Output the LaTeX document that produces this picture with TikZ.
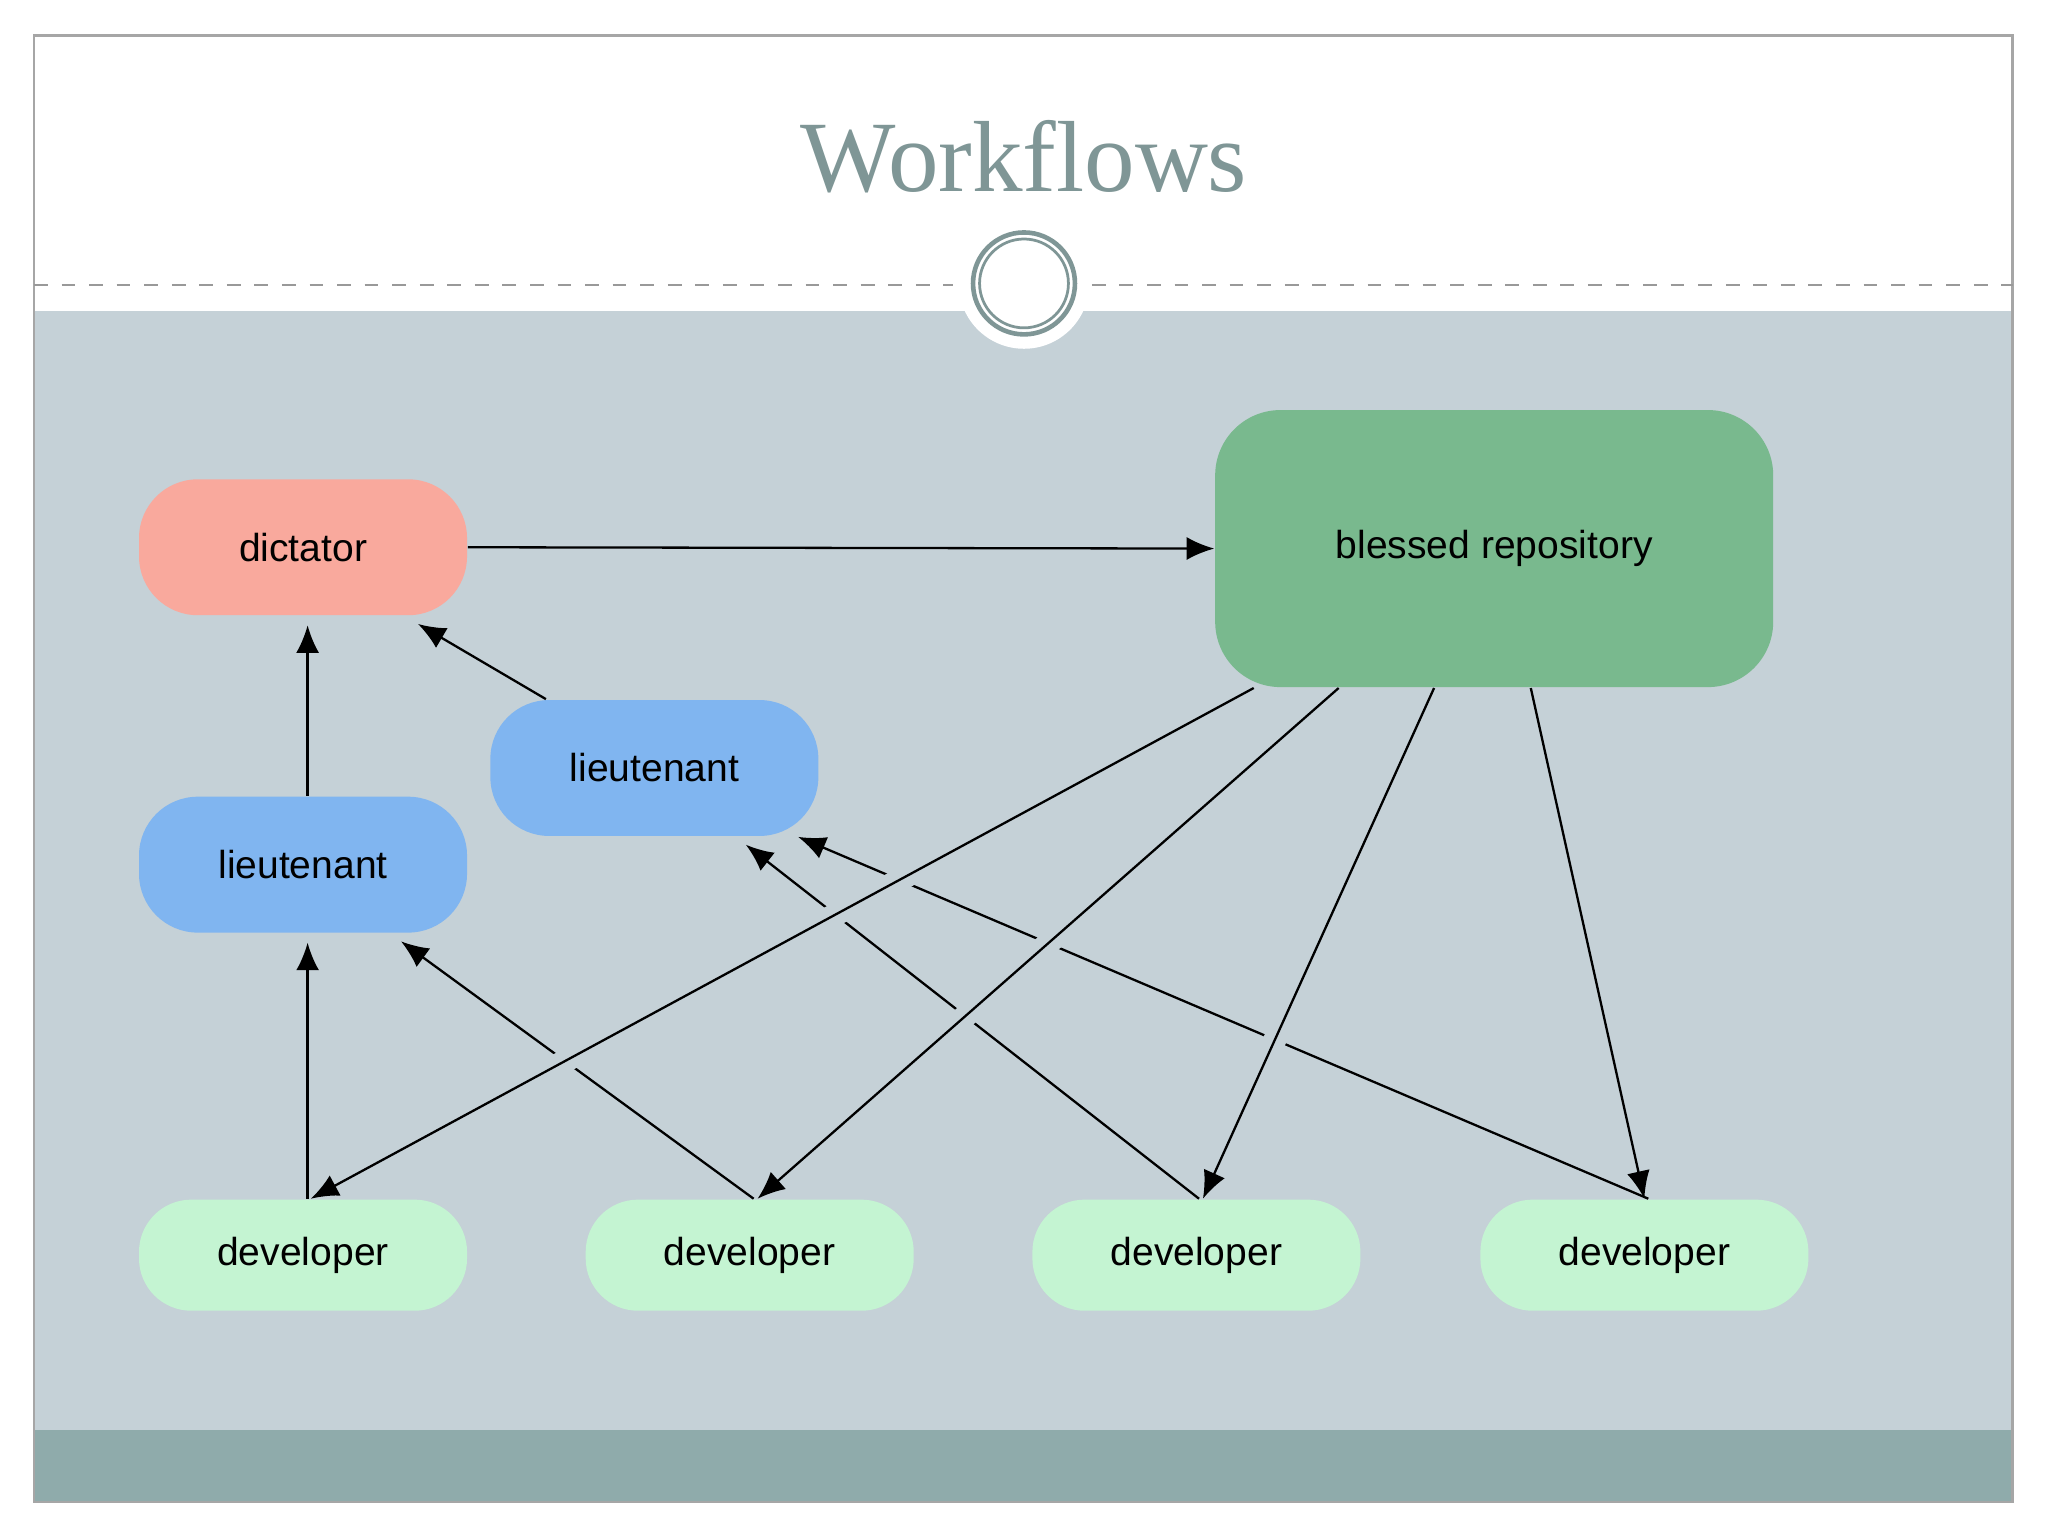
\documentclass[tikz,border=0pt]{standalone}
\usepackage{fontspec}
\setmainfont{Liberation Serif}
\newfontfamily\nodefont{Liberation Sans}
\usetikzlibrary{arrows.meta,positioning}
\definecolor{bodybg}{HTML}{C5D1D7}
\definecolor{bandbg}{HTML}{8FABAB}
\definecolor{titlecol}{HTML}{7F9696}
\definecolor{dictcol}{HTML}{F9A99D}
\definecolor{blesscol}{HTML}{79B98E}
\definecolor{ltcol}{HTML}{80B5F0}
\definecolor{devcol}{HTML}{C4F4D2}
\tikzset{box/.style={rounded corners=0.45cm, minimum width=2.51cm, minimum height=1.04cm, font=\nodefont\fontsize{8.5}{10}\selectfont, inner sep=0pt}}
\tikzset{dictBox/.style={box, fill=dictcol}}
\tikzset{ltBox/.style={box, fill=ltcol}}
\tikzset{devBox/.style={box, fill=devcol, minimum height=0.85cm, rounded corners=0.4cm}}
\tikzset{blessBox/.style={box, fill=blesscol, minimum width=4.27cm, minimum height=2.12cm, rounded corners=0.5cm}}
\tikzset{arr/.style={-{Latex[length=6pt,width=5pt]}, line width=0.5pt}}
\tikzset{over/.style={arr, preaction={draw=bodybg, line width=5pt, -, shorten >=12pt, shorten <=6pt}}}
\begin{document}
\begin{tikzpicture}[x=0.01cm, y=-0.01cm]
\useasboundingbox (0,0) rectangle (1568,1176);
\fill[white] (0,0) rectangle (1568,1176);
% slide background
\fill[bodybg] (26,238) rectangle (1541,1095);
\fill[bandbg] (26,1095) rectangle (1541,1150);
\draw[gray!70, line width=0.6pt] (26,27) rectangle (1541,1150);
\draw[gray!80, dashed, line width=0.5pt] (26,218) -- (730,218);
\draw[gray!80, dashed, line width=0.5pt] (836,218) -- (1541,218);
\fill[white] (784,217) circle (0.5cm);
\draw[titlecol, line width=1pt] (784,217) circle (0.39cm);
\draw[titlecol, line width=0.6pt] (784,217) circle (0.34cm);
\node[titlecol, font=\fontsize{22}{26}\selectfont] (title) at (784,120) {Workflows};

% nodes
\node[dictBox] (dict) at (232,419) {dictator};
\node[blessBox] (bless) at (1144,420) {blessed repository};
\node[ltBox] (ltA) at (501,588) {lieutenant};
\node[ltBox] (ltB) at (232,662) {lieutenant};
\node[devBox] (devA) at (232,961) {developer};
\node[devBox] (devB) at (574,961) {developer};
\node[devBox] (devC) at (916,961) {developer};
\node[devBox] (devD) at (1259,961) {developer};

% edges
\draw[arr] (dict.east) -- (bless.west);
\draw[arr] ([xshift=1pt]ltB.north) -- ([xshift=1pt,yshift=-0.07cm]dict.south);
\draw[arr] ([xshift=-0.83cm]ltA.north) -- ([xshift=0.88cm,yshift=-0.06cm]dict.south);
\draw[arr] ([xshift=1pt]devA.north) -- ([xshift=1pt,yshift=-0.07cm]ltB.south);
\draw[arr] ([xshift=0.03cm]devB.north) -- ([xshift=0.75cm,yshift=-0.06cm]ltB.south);
\draw[arr] ([xshift=0.02cm]devC.north) -- ([xshift=0.70cm,yshift=-0.06cm]ltA.south);
\draw[arr] ([xshift=0.03cm]devD.north) -- ([xshift=1.1cm]ltA.south);
\draw[over] ([xshift=-1.84cm]bless.south) -- ([xshift=0.06cm]devA.north);
\draw[over] ([xshift=-1.19cm]bless.south) -- ([xshift=0.06cm]devB.north);
\draw[over] ([xshift=-0.46cm]bless.south) -- ([xshift=0.05cm]devC.north);
\draw[over] ([xshift=0.28cm]bless.south) -- (devD.north);
\end{tikzpicture}
\end{document}
